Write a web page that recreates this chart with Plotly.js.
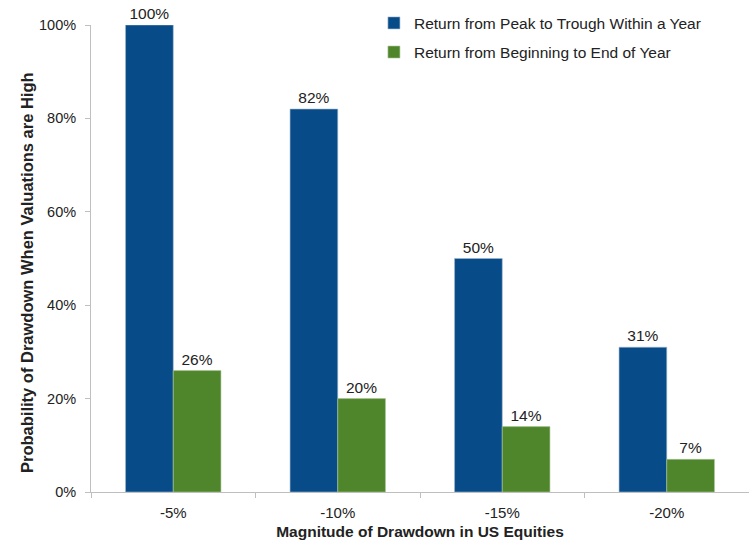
<!DOCTYPE html>
<html>
<head>
<meta charset="utf-8">
<script src="https://cdn.plot.ly/plotly-2.35.2.min.js"></script>
<style>html,body{margin:0;padding:0;background:#fff;}#chart{width:749px;height:544px;}</style>
</head>
<body>
<div id="chart"></div>
<script>
var categories = ["-5%", "-10%", "-15%", "-20%"];
var peakToTrough = [100, 82, 50, 31];
var beginToEnd = [26, 20, 14, 7];
var seriesNames = ["Return from Peak to Trough Within a Year", "Return from Beginning to End of Year"];
var yTickVals = [0, 20, 40, 60, 80, 100];
var yTickText = ["0%", "20%", "40%", "60%", "80%", "100%"];
var xTitle = "Magnitude of Drawdown in US Equities";
var yTitle = "Probability of Drawdown When Valuations are High";

var FONT = "Liberation Sans, Arial, sans-serif";
function pct(a){ return a.map(function(v){ return v + "%"; }); }

var traces = [
  {
    type: "bar", name: seriesNames[0], x: categories, y: peakToTrough,
    text: pct(peakToTrough), textposition: "outside", cliponaxis: false,
    textfont: {family: FONT, size: 15.5, color: "#222"},
    marker: {color: "#074C88", line: {color: "#9fb5cc", width: 0.6}},
    legendgroup: "a", hoverinfo: "skip"
  },
  {
    type: "bar", name: seriesNames[1], x: categories, y: beginToEnd,
    text: pct(beginToEnd), textposition: "outside", cliponaxis: false,
    textfont: {family: FONT, size: 15.5, color: "#222"},
    marker: {color: "#50862B", line: {color: "#a9c69a", width: 0.6}},
    legendgroup: "b", hoverinfo: "skip"
  }
];

var layout = {
  width: 749, height: 544,
  margin: {l: 91, r: 0, t: 25, b: 52},
  paper_bgcolor: "#fff", plot_bgcolor: "#fff",
  font: {family: FONT, size: 14, color: "#222"},
  barmode: "group", bargap: 0.42, bargroupgap: 0,
  showlegend: true,
  legend: {
    x: 0.43, xanchor: "left", y: 1.04, yanchor: "top",
    bgcolor: "rgba(0,0,0,0)", font: {family: FONT, size: 15.5, color: "#222"},
    traceorder: "grouped", tracegroupgap: 6, itemwidth: 30
  },
  xaxis: {
    type: "category", showline: true, linecolor: "#bfbfbf", linewidth: 1,
    ticks: "outside", tickson: "boundaries", ticklen: 5, tickcolor: "#bfbfbf",
    ticklabelstandoff: 7,
    showgrid: false, zeroline: false,
    tickfont: {family: FONT, size: 15, color: "#222"},
    title: {text: "<b>" + xTitle + "</b>", font: {family: FONT, size: 15.5, color: "#222"}, standoff: 6}
  },
  yaxis: {
    range: [0, 100], tickvals: yTickVals, ticktext: yTickText,
    showline: true, linecolor: "#bfbfbf", linewidth: 1,
    ticks: "outside", ticklen: 5, tickcolor: "#bfbfbf",
    ticklabelstandoff: 6,
    showgrid: false, zeroline: false,
    tickfont: {family: FONT, size: 14.5, color: "#222"}
  },
  annotations: [{
    text: "<b>" + yTitle + "</b>", xref: "paper", yref: "paper",
    x: -0.0973, y: 0.471, xanchor: "center", yanchor: "middle",
    textangle: -90, showarrow: false,
    font: {family: FONT, size: 16.5, color: "#222"}
  }]
};

Plotly.newPlot("chart", traces, layout, {staticPlot: true, displayModeBar: false});
</script>
</body>
</html>
